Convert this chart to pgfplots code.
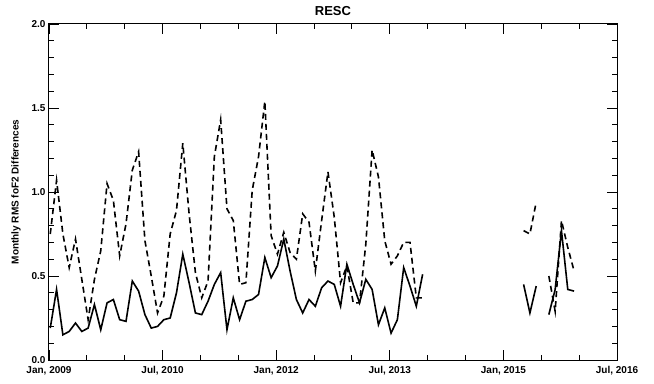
\documentclass[border=0pt]{standalone}
\usepackage{fontspec}
\setmainfont{Liberation Sans}
\usepackage{pgfplots}
\usepackage{pgfplotstable}
\pgfplotsset{compat=1.18}

\pgfplotstableread{
m v
0 0.19
1 0.42
2 0.15
3 0.17
4 0.22
5 0.17
6 0.19
7 0.33
8 0.18
9 0.34
10 0.36
11 0.24
12 0.23
13 0.47
14 0.41
15 0.27
16 0.19
17 0.20
18 0.24
19 0.25
20 0.40
21 0.63
22 0.46
23 0.28
24 0.27
25 0.35
26 0.45
27 0.52
28 0.18
29 0.37
30 0.24
31 0.35
32 0.36
33 0.39
34 0.61
35 0.49
36 0.56
37 0.72
38 0.53
39 0.36
40 0.28
41 0.36
42 0.32
43 0.43
44 0.47
45 0.45
46 0.32
47 0.57
48 0.45
49 0.34
50 0.48
51 0.42
52 0.21
53 0.31
54 0.16
55 0.24
56 0.55
57 0.44
58 0.32
59 0.51
60 nan
75 0.45
76 0.28
77 0.44
78 nan
79 0.27
80 0.42
81 0.77
82 0.42
83 0.41
}\solid

\pgfplotstableread{
m v
0 0.75
1 1.07
2 0.75
3 0.55
4 0.72
5 0.48
6 0.24
7 0.48
8 0.65
9 1.05
10 0.95
11 0.62
12 0.81
13 1.13
14 1.24
15 0.71
16 0.50
17 0.28
18 0.38
19 0.75
20 0.89
21 1.29
22 0.87
23 0.52
24 0.37
25 0.47
26 1.21
27 1.43
28 0.90
29 0.83
30 0.45
31 0.46
32 1.01
33 1.21
34 1.54
35 0.74
36 0.63
37 0.76
38 0.64
39 0.60
40 0.87
41 0.82
42 0.53
43 0.83
44 1.12
45 0.85
46 0.46
47 0.56
48 0.34
49 0.34
50 0.69
51 1.25
52 1.09
53 0.71
54 0.57
55 0.62
56 0.70
57 0.70
58 0.37
59 0.37
60 nan
75 0.77
76 0.75
77 0.94
78 nan
79 0.50
80 0.29
81 0.83
82 0.67
83 0.53
}\dashed

\begin{document}
\begin{tikzpicture}
\begin{axis}[
  scale only axis,
  width=568pt, height=336pt,
  xmin=0, xmax=90, ymin=0, ymax=2,
  xtick={0,18,36,54,72,90},
  xticklabels={{Jan, 2009},{Jul, 2010},{Jan, 2012},{Jul, 2013},{Jan, 2015},{Jul, 2016}},
  minor xtick={6,12,24,30,42,48,60,66,78,84},
  ytick={0,0.5,1,1.5,2},
  minor ytick={0.1,0.2,0.3,0.4,0.6,0.7,0.8,0.9,1.1,1.2,1.3,1.4,1.6,1.7,1.8,1.9},
  yticklabel style={/pgf/number format/.cd, fixed, fixed zerofill, precision=1},
  /pgf/number format/assume math mode=true,
  tick align=inside,
  major tick length=10pt, minor tick length=5pt,
  tick style={black, line width=0.9pt},
  axis line style={line width=1pt},
  tick label style={font=\bfseries\fontsize{10}{12}\selectfont},
  xticklabel style={yshift=-3pt},
  title={RESC},
  every axis title/.style={at={(axis description cs:0.5,1)}, anchor=center, yshift=13pt, font=\bfseries\fontsize{13}{15}\selectfont},
  ylabel={Monthly RMS foF2 Differences},
  every axis y label/.style={at={(axis description cs:0,0.5)}, xshift=-33pt, rotate=90, anchor=center, font=\bfseries\fontsize{10}{12}\selectfont},
  unbounded coords=jump,
]
\addplot[black, line width=1.6pt] table[x expr=\thisrow{m}+0.2, y=v] {\solid};
\addplot[black, line width=1.6pt, dash pattern=on 6pt off 4pt] table[x expr=\thisrow{m}+0.2, y=v] {\dashed};
\end{axis}
\path ([xshift=-49pt,yshift=-23pt]current axis.south west) rectangle ([xshift=37pt,yshift=24pt]current axis.north east);
\end{tikzpicture}
\end{document}
